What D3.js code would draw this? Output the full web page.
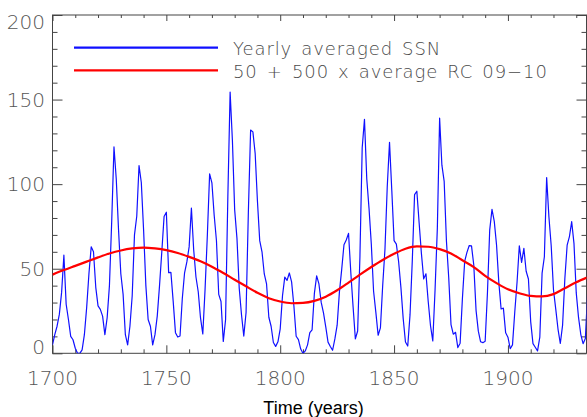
<!DOCTYPE html>
<html>
<head>
<meta charset="utf-8">
<script src="https://cdn.jsdelivr.net/npm/d3@7/dist/d3.min.js"></script>
<style>
html,body{margin:0;padding:0;background:#fff;}
svg{display:block;}
</style>
</head>
<body>
<svg id="chart" width="587" height="417"></svg>
<script>
// Yearly averaged sunspot number, 1700-1935
const ssnYears = d3.range(1700, 1936);
const ssnValues = [
  5.0,11.0,16.0,23.0,36.0,58.0,29.0,20.0,10.0,8.0,
  3.0,0.0,0.0,2.0,11.0,27.0,47.0,63.0,60.0,39.0,
  28.0,26.0,22.0,11.0,21.0,40.0,78.0,122.0,103.0,73.0,
  47.0,35.0,11.0,5.0,16.0,34.0,70.0,81.0,111.0,101.0,
  73.0,40.0,20.0,16.0,5.0,11.0,22.0,40.0,60.0,80.9,
  83.4,47.7,47.8,30.7,12.2,9.6,10.2,32.4,47.6,54.0,
  62.9,85.9,61.2,45.1,36.4,20.9,11.4,37.8,69.8,106.1,
  100.8,81.6,66.5,34.8,30.6,7.0,19.8,92.5,154.4,125.9,
  84.8,68.1,38.5,22.8,10.2,24.1,82.9,132.0,130.9,118.1,
  89.9,66.6,60.0,46.9,41.0,21.3,16.0,6.4,4.1,6.8,
  14.5,34.0,45.0,43.1,47.5,42.2,28.1,10.1,8.1,2.5,
  0.0,1.4,5.0,12.2,13.9,35.4,45.8,41.0,30.1,23.9,
  15.6,6.6,4.0,1.8,8.5,16.6,36.3,49.6,64.2,67.0,
  70.9,47.8,27.5,8.5,13.2,56.9,121.5,138.3,103.2,85.7,
  64.6,36.7,24.2,10.7,15.0,40.1,61.5,98.5,124.7,96.3,
  66.6,64.5,54.1,39.0,20.6,6.7,4.3,22.7,54.8,93.8,
  95.8,77.2,59.1,44.0,47.0,30.5,16.3,7.3,37.6,74.0,
  139.0,111.2,101.6,66.2,44.7,17.0,11.3,12.4,3.4,6.0,
  32.3,54.3,59.7,63.7,63.5,52.2,25.4,13.1,6.8,6.3,
  7.1,35.6,73.0,85.1,78.0,64.0,41.8,26.2,26.7,12.1,
  9.5,2.7,5.0,24.4,42.0,63.5,53.8,62.0,48.5,43.9,
  18.6,5.7,3.6,1.4,9.6,47.4,57.1,103.9,80.6,63.6,
  37.6,26.1,14.2,5.8,16.7,44.3,63.9,69.0,77.8,65.0,
  35.7,21.2,11.1,5.7,8.7,36.1
];
// 50 + 500 x average RC 09-10 (every 5 years)
const rcYears = [1700,1705,1710,1715,1720,1725,1730,1735,1740,1745,1750,1755,1760,1765,1770,1775,1780,1785,1790,1795,1800,1805,1810,1815,1820,1825,1830,1835,1840,1845,1850,1855,1860,1865,1870,1875,1880,1885,1890,1895,1900,1905,1910,1915,1920,1925,1930,1935];
const rcValues = [46.5,49.2,51.7,54.2,56.7,59.0,60.8,62.0,62.5,62.0,61.0,59.3,57.0,54.4,51.2,47.5,43.5,39.6,35.8,32.6,30.6,29.6,29.8,31.0,33.5,37.3,41.8,46.5,51.0,55.2,58.8,61.8,63.2,63.0,61.6,59.0,55.0,51.0,45.8,41.5,37.8,35.5,33.9,33.6,35.0,38.5,42.0,45.0];

const xTicks = [1700,1750,1800,1850,1900];
const yTicks = [0,50,100,150,200];
const legendLabels = ["Yearly averaged SSN","50 + 500 x average RC 09\u221210"];
const xTitle = "Time (years)";

const svg = d3.select("#chart");
const L = 52.5, R = 586.5, T = 15, B = 353.3;
const x = d3.scaleLinear().domain([1700, 1934.5]).range([L, R]);
const y = d3.scaleLinear().domain([0, 200]).range([B, T]);
const axisColor = "#444", labelColor = "#555";

svg.append("defs").append("clipPath").attr("id","clip")
  .append("rect").attr("x",L).attr("y",T-2).attr("width",R-L).attr("height",B-T+2);

// frame
svg.append("rect").attr("x",L).attr("y",T).attr("width",R-L).attr("height",B-T)
  .attr("fill","none").attr("stroke",axisColor).attr("stroke-width",1);

const minorX = d3.range(1700, 1935, 10).filter(v => !xTicks.includes(v));
const minorY = d3.range(0, 201, 10).filter(v => !yTicks.includes(v));

const bAxis = svg.append("g").attr("transform",`translate(0,${B})`)
  .call(d3.axisTop(x).tickValues(xTicks).tickSize(8).tickFormat(""));
const bMinor = svg.append("g").attr("transform",`translate(0,${B})`)
  .call(d3.axisTop(x).tickValues(minorX).tickSize(4).tickFormat(""));
const tAxis = svg.append("g").attr("transform",`translate(0,${T})`)
  .call(d3.axisBottom(x).tickValues(xTicks).tickSize(6).tickFormat(""));
const tMinor = svg.append("g").attr("transform",`translate(0,${T})`)
  .call(d3.axisBottom(x).tickValues(minorX).tickSize(3).tickFormat(""));
const lAxis = svg.append("g").attr("transform",`translate(${L},0)`)
  .call(d3.axisRight(y).tickValues(yTicks).tickSize(10).tickFormat(""));
const lMinor = svg.append("g").attr("transform",`translate(${L},0)`)
  .call(d3.axisRight(y).tickValues(minorY).tickSize(5).tickFormat(""));
const rAxis = svg.append("g").attr("transform",`translate(${R},0)`)
  .call(d3.axisLeft(y).tickValues(yTicks).tickSize(10).tickFormat(""));
const rMinor = svg.append("g").attr("transform",`translate(${R},0)`)
  .call(d3.axisLeft(y).tickValues(minorY).tickSize(5).tickFormat(""));
[bAxis,bMinor,tAxis,tMinor,lAxis,lMinor,rAxis,rMinor].forEach(g => {
  g.select(".domain").remove();
  g.selectAll("line").attr("stroke",axisColor).attr("stroke-width",1);
});

// tick labels
const tickFont = "'DejaVu Sans', sans-serif";
svg.append("g").selectAll("text").data(xTicks).join("text")
  .attr("x", d => x(d)).attr("y", 385)
  .attr("text-anchor","middle").attr("font-family",tickFont).attr("font-weight",200)
  .attr("font-size",20).attr("fill",labelColor).text(d => d);
svg.append("g").selectAll("text").data(yTicks).join("text")
  .attr("x", 45).attr("y", d => {
    const py = y(d);
    return Math.min(Math.max(py + 7.2, T + 14.3), B + 0.8);
  })
  .attr("text-anchor","end").attr("font-family",tickFont).attr("font-weight",200)
  .attr("font-size",20).attr("fill",labelColor).text(d => d);

// x title
svg.append("text").attr("x", 313.5).attr("y", 414)
  .attr("text-anchor","middle").attr("font-family","'Liberation Sans', Arial, sans-serif")
  .attr("font-size",18).attr("fill","#000").text(xTitle);

// data lines
const plot = svg.append("g").attr("clip-path","url(#clip)");
const ssnData = ssnYears.map((yr,i) => [yr, ssnValues[i]]);
const rcData = rcYears.map((yr,i) => [yr, rcValues[i]]);
plot.append("path").datum(ssnData)
  .attr("fill","none").attr("stroke","#1010ff").attr("stroke-width",1.2)
  .attr("stroke-linejoin","round")
  .attr("d", d3.line().x(d => x(d[0])).y(d => y(d[1])));
plot.append("path").datum(rcData)
  .attr("fill","none").attr("stroke","#ff0000").attr("stroke-width",2.2)
  .attr("d", d3.line().curve(d3.curveMonotoneX).x(d => x(d[0])).y(d => y(d[1])));

// legend
const legColors = ["#1010ff","#ff0000"];
const legY = [47.7, 70.3];
const leg = svg.append("g");
legendLabels.forEach((lab,i) => {
  leg.append("line").attr("x1",74).attr("x2",218).attr("y1",legY[i]).attr("y2",legY[i])
    .attr("stroke",legColors[i]).attr("stroke-width",2.2);
  leg.append("text").attr("x",233).attr("y",legY[i]+7.3)
    .attr("font-family",tickFont).attr("font-weight",200).attr("font-size",18)
    .attr("letter-spacing",0.9).attr("word-spacing",2.5)
    .attr("fill","#4a4a4a").text(lab);
});
</script>
</body>
</html>
